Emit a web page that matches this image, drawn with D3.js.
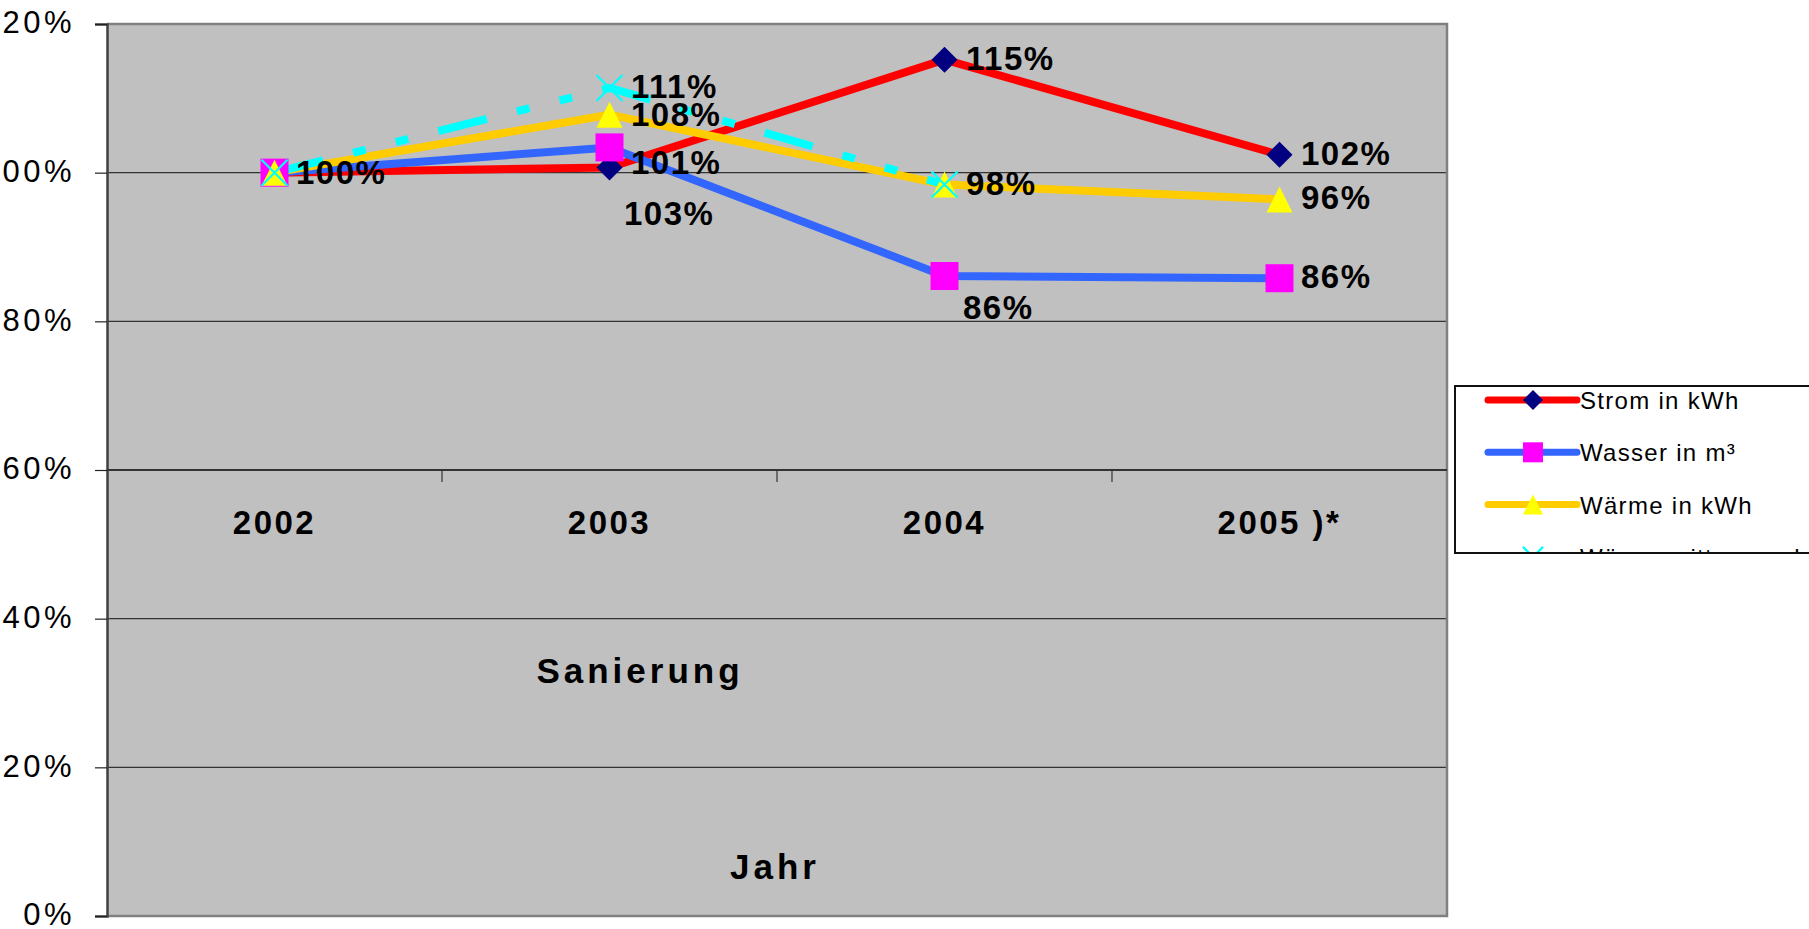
<!DOCTYPE html>
<html>
<head>
<meta charset="utf-8">
<script src="https://cdn.jsdelivr.net/npm/d3@7"></script>
<style>
  body { margin: 0; background: #fff; }
  svg { display: block; font-family: "Liberation Sans", Arial, sans-serif; }
</style>
</head>
<body>
<div id="chart"></div>
<script>
// data
var categories = ["2002", "2003", "2004", "2005 )*"];
var strom = [1.00, 1.007, 1.152, 1.024];
var wasser = [1.00, 1.034, 0.861, 0.858];
var waerme = [1.00, 1.078, 0.984, 0.964];
var waermeBer = [1.00, 1.114, 0.984, null];
var seriesNames = ["Strom in kWh", "Wasser in m³", "Wärme in kWh", "Wärme witterungsbereinigt"];
var yTicks = [0, 0.2, 0.4, 0.6, 0.8, 1.0, 1.2];

var W = 1809, H = 929;
var mLeft = 107, mRight = 1447, mTop = 24, mBottom = 916;

var svg = d3.select("#chart").append("svg")
    .attr("width", W)
    .attr("height", H);

var x = d3.scaleBand().domain(categories).range([mLeft, mRight]);
var y = d3.scaleLinear().domain([0, 1.2]).range([mBottom, mTop]);
var cx = function (c) { return x(c) + x.bandwidth() / 2; };

// plot area
svg.append("rect")
    .attr("x", mLeft).attr("y", mTop)
    .attr("width", mRight - mLeft).attr("height", mBottom - mTop)
    .attr("fill", "#c0c0c0");

// gridlines
svg.append("g").selectAll("line")
    .data(yTicks.filter(function (t) { return t > 0 && t < 1.2 && t != 0.6; }))
    .enter().append("line")
    .attr("x1", mLeft).attr("x2", mRight)
    .attr("y1", function (d) { return y(d); })
    .attr("y2", function (d) { return y(d); })
    .attr("stroke", "#333")
    .attr("stroke-width", 1.2);

// frame top / right / bottom
svg.append("path")
    .attr("d", "M" + mLeft + "," + y(1.2) + "H" + mRight + "V" + y(0) + "H" + mLeft)
    .attr("fill", "none")
    .attr("stroke", "#808080")
    .attr("stroke-width", 2.5);

// y axis
var yAxis = svg.append("g")
    .attr("transform", "translate(" + mLeft + ",0)")
    .call(d3.axisLeft(y).tickValues(yTicks).tickFormat(d3.format(".0%")).tickSize(12).tickPadding(20));
yAxis.select(".domain").attr("stroke", "#404040").attr("stroke-width", 2.5);
yAxis.selectAll(".tick line").attr("stroke", "#222").attr("stroke-width", 1.2);
yAxis.selectAll(".tick text")
    .attr("font-size", 31)
    .attr("font-family", "Liberation Sans, Arial, sans-serif")
    .attr("fill", "#000")
    .attr("letter-spacing", 3.5)
    .attr("dy", "0.28em");

// category axis sitting at 60%
var y60 = y(0.6);
svg.append("line")
    .attr("x1", mLeft).attr("x2", mRight)
    .attr("y1", y60).attr("y2", y60)
    .attr("stroke", "#333").attr("stroke-width", 2);
svg.append("g").selectAll("line")
    .data(categories.slice(1))
    .enter().append("line")
    .attr("x1", function (d) { return x(d); })
    .attr("x2", function (d) { return x(d); })
    .attr("y1", y60).attr("y2", y60 + 12)
    .attr("stroke", "#333").attr("stroke-width", 1.2);
svg.append("g").selectAll("text")
    .data(categories)
    .enter().append("text")
    .attr("x", function (d) { return cx(d); })
    .attr("y", 534)
    .attr("text-anchor", "middle")
    .attr("font-size", 33)
    .attr("font-weight", "bold")
    .attr("letter-spacing", 2.5)
    .text(function (d) { return d; });

// free text
svg.append("text")
    .attr("x", 640).attr("y", 683)
    .attr("text-anchor", "middle")
    .attr("font-size", 35).attr("font-weight", "bold")
    .attr("letter-spacing", 4)
    .text("Sanierung");
svg.append("text")
    .attr("x", 775).attr("y", 879)
    .attr("text-anchor", "middle")
    .attr("font-size", 35).attr("font-weight", "bold")
    .attr("letter-spacing", 4)
    .text("Jahr");

// series
var series = [
    { name: seriesNames[0], values: strom, color: "#ff0000", marker: "diamond", mcolor: "#000080", dash: null },
    { name: seriesNames[1], values: wasser, color: "#3366ff", marker: "square", mcolor: "#ff00ff", dash: null },
    { name: seriesNames[2], values: waerme, color: "#ffcc00", marker: "triangle", mcolor: "#ffff00", dash: null },
    { name: seriesNames[3], values: waermeBer, color: "#00ffff", marker: "x", mcolor: "#00ffff", dash: "50,31,13,31,13,31" }
];

// label placement per series / point: [dx, dy] from point to text start/baseline
var labelPos = [
    [[21, 11], [21, 7], [21, 10], [21, 10]],
    [[21, 11], [14, 78], [18, 43], [21, 10]],
    [[21, 11], [21, 11], [21, 10], [21, 10]],
    [[21, 11], [21, 10], [21, 10], [21, 10]]
];

var line = d3.line()
    .defined(function (d) { return d.v != null; })
    .x(function (d) { return cx(d.c); })
    .y(function (d) { return y(d.v); });

function pts(s) {
    return s.values.map(function (v, i) { return { c: categories[i], v: v, i: i }; });
}

series.forEach(function (s) {
    svg.append("path")
        .datum(pts(s))
        .attr("d", line)
        .attr("fill", "none")
        .attr("stroke", s.color)
        .attr("stroke-width", 8)
        .attr("stroke-linejoin", "round")
        .attr("stroke-dasharray", s.dash);
});

function drawMarker(g, type, col, px, py, r) {
    if (type == "diamond") {
        g.append("path")
            .attr("d", "M" + px + "," + (py - r) + "L" + (px + r) + "," + py + "L" + px + "," + (py + r) + "L" + (px - r) + "," + py + "Z")
            .attr("fill", col);
    } else if (type == "square") {
        g.append("rect")
            .attr("x", px - r).attr("y", py - r)
            .attr("width", 2 * r).attr("height", 2 * r)
            .attr("fill", col);
    } else if (type == "triangle") {
        g.append("path")
            .attr("d", "M" + px + "," + (py - r) + "L" + (px + r) + "," + (py + r) + "L" + (px - r) + "," + (py + r) + "Z")
            .attr("fill", col);
    } else {
        g.append("path")
            .attr("d", "M" + (px - r) + "," + (py - r) + "L" + (px + r) + "," + (py + r) + "M" + (px + r) + "," + (py - r) + "L" + (px - r) + "," + (py + r))
            .attr("stroke", col).attr("stroke-width", 2.2).attr("fill", "none");
    }
}

var markSize = { diamond: 13, square: 14, triangle: 13, x: 13 };
var markers = svg.append("g");
series.forEach(function (s) {
    pts(s).forEach(function (p) {
        if (p.v == null) return;
        drawMarker(markers, s.marker, s.mcolor, cx(p.c), y(p.v), markSize[s.marker]);
    });
});

// data labels (identical labels at the same spot drawn once)
var fmt = d3.format(".0%");
var seen = {};
var labels = svg.append("g");
series.forEach(function (s, si) {
    pts(s).forEach(function (p) {
        if (p.v == null) return;
        var lx = Math.round(cx(p.c) + labelPos[si][p.i][0]);
        var ly = Math.round(y(p.v) + labelPos[si][p.i][1]);
        var key = fmt(p.v) + "@" + Math.round(lx / 4) + "," + Math.round(ly / 4);
        if (seen[key]) return;
        seen[key] = true;
        labels.append("text")
            .attr("x", lx).attr("y", ly)
            .attr("font-size", 33)
            .attr("font-weight", "bold")
            .attr("letter-spacing", 1.5)
            .text(fmt(p.v));
    });
});

// legend (cut off at the right and bottom like the original)
var lg = { x: 1455, y: 386, w: 400, h: 167 };
svg.append("clipPath").attr("id", "legclip")
    .append("rect").attr("x", lg.x).attr("y", lg.y).attr("width", lg.w).attr("height", lg.h);
svg.append("rect")
    .attr("x", lg.x).attr("y", lg.y).attr("width", lg.w).attr("height", lg.h)
    .attr("fill", "#fff");
var legend = svg.append("g").attr("clip-path", "url(#legclip)");
series.forEach(function (s, i) {
    var ry = 400 + i * 52.3;
    legend.append("line")
        .attr("x1", 1488).attr("x2", 1577)
        .attr("y1", ry).attr("y2", ry)
        .attr("stroke", s.color)
        .attr("stroke-width", 7)
        .attr("stroke-linecap", "round")
        .attr("stroke-dasharray", s.dash ? "30,12,8,12" : null);
    drawMarker(legend, s.marker, s.mcolor, 1533, ry, 10);
    legend.append("text")
        .attr("x", 1580).attr("y", ry + 9)
        .attr("font-size", 24)
        .attr("letter-spacing", 1.3)
        .text(s.name);
});
svg.append("rect")
    .attr("x", lg.x).attr("y", lg.y).attr("width", lg.w).attr("height", lg.h)
    .attr("fill", "none")
    .attr("stroke", "#111")
    .attr("stroke-width", 2);
</script>
</body>
</html>
